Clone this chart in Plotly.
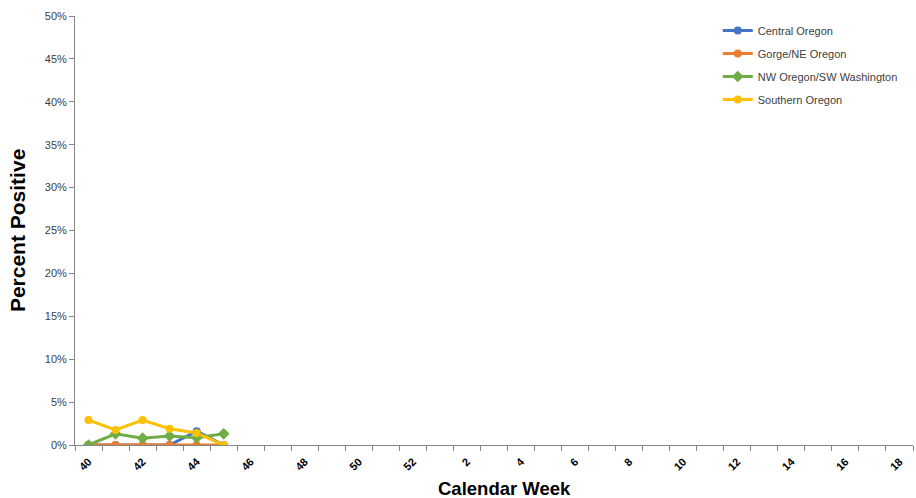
import plotly.graph_objects as go

weeks = [str(w) for w in range(40, 53)] + [str(w) for w in range(1, 19)]
tick_labels = weeks[::2]

central_oregon = [0.0, 0.0, 0.0, 0.0, 1.6, 0.0]
gorge_ne_oregon = [0.0, 0.0, 0.0, 0.0, 0.0, 0.0]
nw_oregon_sw_wa = [0.0, 1.3, 0.8, 1.05, 0.85, 1.3]
southern_oregon = [2.9, 1.75, 2.9, 1.9, 1.4, 0.0]

series = [
    ("Central Oregon", central_oregon, "#4472C4", "circle"),
    ("Gorge/NE Oregon", gorge_ne_oregon, "#ED7D31", "circle"),
    ("NW Oregon/SW Washington", nw_oregon_sw_wa, "#70AD47", "diamond"),
    ("Southern Oregon", southern_oregon, "#FFC000", "circle"),
]

fig = go.Figure()
for name, vals, color, sym in series:
    fig.add_trace(go.Scatter(
        x=list(range(len(vals))), y=[v / 100 for v in vals], name=name,
        legendgroup=name,
        mode="lines+markers",
        line=dict(color=color, width=3),
        marker=dict(color=color, size=8 if sym == "circle" else 9, symbol=sym),
    ))

font = "Liberation Sans"
fig.update_layout(
    width=916, height=498,
    margin=dict(l=75, r=3, t=16, b=53, autoexpand=False),
    plot_bgcolor="white", paper_bgcolor="white",
    font=dict(family=font, size=11, color="#404040"),
    showlegend=True,
    legend=dict(x=0.767, y=1.0, xanchor="left", yanchor="top",
                bgcolor="rgba(0,0,0,0)", font=dict(size=11, color="#404040"),
                tracegroupgap=4, itemwidth=30),
    annotations=[
        dict(text="<b>Calendar Week</b>", xref="paper", yref="paper",
             x=(504 - 75) / 838, y=-0.102, xanchor="center", yanchor="middle",
             showarrow=False, font=dict(size=18.5, color="#000000")),
        dict(text="<b>Percent Positive</b>", xref="paper", yref="paper",
             x=-0.0685, y=0.5, xanchor="center", yanchor="middle", textangle=-90,
             showarrow=False, font=dict(size=21, color="#000000")),
    ],
)
fig.update_xaxes(
    automargin=False,
    range=[-0.5, len(weeks) - 0.5],
    tickmode="array",
    tickvals=list(range(0, len(weeks), 2)),
    ticktext=["<b>%s</b>" % t for t in tick_labels],
    tickangle=-45,
    ticks="",
    ticklabelstandoff=5,
    tickfont=dict(size=11, color="#000000"),
    showline=True, linecolor="#868686", linewidth=1,
    showgrid=False, zeroline=False,
    minor=dict(ticks="outside", tickmode="linear", tick0=-0.5, dtick=1,
               ticklen=5, tickcolor="#868686", showgrid=False),
)
fig.update_yaxes(
    automargin=False,
    range=[0, 0.5],
    tickmode="linear", tick0=0, dtick=0.05, tickformat=".0%",
    ticks="outside", ticklen=5, tickcolor="#868686",
    tickfont=dict(size=11, color="#404040"),
    showline=True, linecolor="#868686", linewidth=1,
    showgrid=False, zeroline=False,
)

fig.write_html(
    "out.html",
    config={"displayModeBar": False},
    post_script="document.body.style.margin='0';document.body.style.overflow='hidden';",
)
